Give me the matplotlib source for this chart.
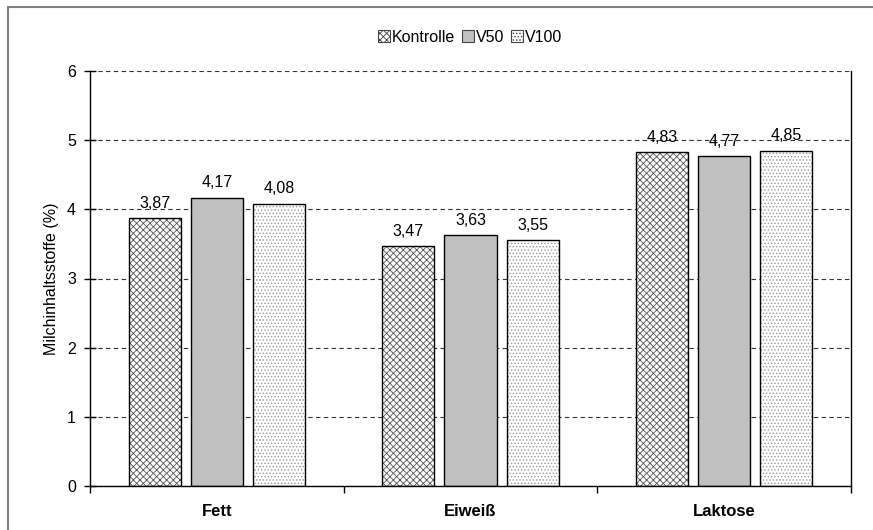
import matplotlib.pyplot as plt
from matplotlib.patches import Rectangle, Patch
import numpy as np

plt.rcParams['font.family'] = ['Liberation Sans', 'DejaVu Sans']
plt.rcParams['hatch.linewidth'] = 0.6

categories = ["Fett", "Eiweiß", "Laktose"]
series = ["Kontrolle", "V50", "V100"]
kontrolle = [3.87, 3.47, 4.83]
v50 = [4.17, 3.63, 4.77]
v100 = [4.08, 3.55, 4.85]
values = [kontrolle, v50, v100]

fills = ["white", "#c0c0c0", "white"]
hatches = ["xxxxx", None, "....."]
hatch_cols = ["#555555", "#c0c0c0", "#999999"]

fig = plt.figure(figsize=(8.73, 5.30), dpi=100)
ax = fig.add_axes([90 / 873, 1 - 486 / 530, 761 / 873, 415 / 530])

x = np.arange(len(categories))
w = 0.205
step = 0.245
for i, vals in enumerate(values):
    pos = x + (i - 1) * step
    ax.bar(pos, vals, w, color=fills[i], hatch=hatches[i],
           edgecolor=hatch_cols[i], linewidth=0, zorder=2)
    ax.bar(pos, vals, w, fill=False, edgecolor="black", linewidth=1.0, zorder=3)
    for p, v in zip(pos, vals):
        ax.text(p, v + 0.15, f"{v:.2f}".replace(".", ","), ha="center",
                va="baseline", fontsize=11.5)

ax.set_xlim(-0.5, 2.5)
ax.set_ylim(0, 6)
ax.set_yticks(range(0, 7))
ax.yaxis.grid(True, linestyle=(0, (4, 3)), color="#333333", linewidth=0.8, zorder=0)
ax.set_axisbelow(True)
ax.spines["top"].set_visible(False)
for s in ["left", "bottom", "right"]:
    ax.spines[s].set_linewidth(1.0)
ax.set_xticks([-0.5, 0.5, 1.5, 2.5])
ax.set_xticklabels([])
ax.set_xticks(x, minor=True)
ax.set_xticklabels(categories, minor=True, fontweight="bold", fontsize=12)
ax.tick_params(axis="x", which="minor", length=0, pad=13)
ax.tick_params(axis="x", which="major", direction="out", length=5, width=1)
ax.tick_params(axis="y", direction="inout", length=8, width=1, labelsize=11.5, pad=6)
ax.set_ylabel("Milchinhaltsstoffe (%)", fontsize=11.5, labelpad=6)

handles = [Patch(facecolor=fills[i], hatch=hatches[i], edgecolor="#444444",
                 linewidth=0.8) for i in range(3)]
fig.legend(handles, series, loc="center", bbox_to_anchor=(470 / 873, 1 - 37 / 530),
           ncol=3, frameon=False, fontsize=11.5, handlelength=0.75, handleheight=0.75,
           handletextpad=0.15, columnspacing=0.4)

# outer chart border (Excel chart area)
fig.patches.append(Rectangle((8 / 873, -0.5), 2, 1.5 - 7 / 530, transform=fig.transFigure,
                             fill=False, edgecolor="#7f7f7f", linewidth=1.5))

fig.savefig("out.png", dpi=100)
